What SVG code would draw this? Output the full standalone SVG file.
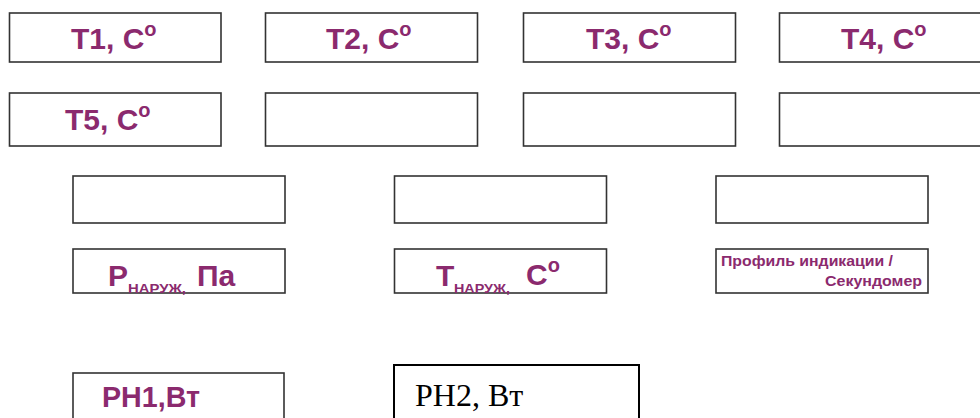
<svg xmlns="http://www.w3.org/2000/svg" width="980" height="418" viewBox="0 0 980 418">
<style>
.box{fill:#fff;stroke:#333;stroke-width:1.6}
.box2{fill:#fff;stroke:#000;stroke-width:2}
.lbl{font-family:"Liberation Sans",Arial,sans-serif;fill:#8B2A6E;font-size:30px;font-weight:bold}
.sub{font-family:"Liberation Sans",Arial,sans-serif;fill:#8B2A6E;font-size:12px;font-weight:bold}
.small{font-family:"Liberation Sans",Arial,sans-serif;fill:#8B2A6E;font-size:14px;font-weight:bold}
.serif{font-family:"Liberation Serif","Times New Roman",serif;fill:#000;font-size:32px}
</style>
<rect width="980" height="418" fill="#fff"/>
<g id="t1"><rect class="box" x="9.5" y="13" width="211.5" height="49"/><text class="lbl" x="71" y="48.5">T1, C<tspan font-size="20" dy="-13">o</tspan></text></g>
<g id="t2"><rect class="box" x="265.5" y="13" width="212" height="49"/><text class="lbl" x="326" y="48.5">T2, C<tspan font-size="20" dy="-13">o</tspan></text></g>
<g id="t3"><rect class="box" x="523.5" y="13" width="212" height="49"/><text class="lbl" x="586" y="48.5">T3, C<tspan font-size="20" dy="-13">o</tspan></text></g>
<g id="t4"><rect class="box" x="779.5" y="13" width="212" height="49"/><text class="lbl" x="841" y="48.5">T4, C<tspan font-size="20" dy="-13">o</tspan></text></g>
<g id="t5"><rect class="box" x="9.5" y="93" width="211.5" height="53"/><text class="lbl" x="65" y="130">T5, C<tspan font-size="20" dy="-13">o</tspan></text></g>
<g id="r2c2"><rect class="box" x="265.5" y="93" width="212" height="53"/></g>
<g id="r2c3"><rect class="box" x="523.5" y="93" width="212" height="53"/></g>
<g id="r2c4"><rect class="box" x="779.5" y="93" width="212" height="53"/></g>
<g id="r3c1"><rect class="box" x="73" y="176" width="212" height="47"/></g>
<g id="r3c2"><rect class="box" x="394.5" y="176" width="212" height="47"/></g>
<g id="r3c3"><rect class="box" x="716" y="176" width="212" height="47"/></g>
<g id="pnar"><rect class="box" x="73" y="249" width="212" height="44"/>
<text class="lbl" x="108" y="286" font-size="29">P</text>
<text class="sub" x="128" y="293" textLength="58" lengthAdjust="spacingAndGlyphs">НАРУЖ,</text>
<text class="lbl" x="197" y="286" font-size="29">Па</text></g>
<g id="tnar"><rect class="box" x="394.5" y="249" width="212" height="44"/>
<text class="lbl" x="436" y="286" font-size="29">T</text>
<text class="sub" x="454" y="293" textLength="56" lengthAdjust="spacingAndGlyphs">НАРУЖ,</text>
<text class="lbl" x="526" y="285">C<tspan font-size="20" dy="-13">o</tspan></text></g>
<g id="prof"><rect class="box" x="716" y="249" width="212" height="44"/>
<text class="small" x="721" y="266" textLength="172" lengthAdjust="spacingAndGlyphs">Профиль индикации /</text>
<text class="small" x="825" y="286" textLength="97" lengthAdjust="spacingAndGlyphs">Секундомер</text></g>
<g id="ph1"><rect class="box" x="73" y="373" width="211" height="60"/><text class="lbl" x="102" y="406.5" font-size="27" textLength="98" lengthAdjust="spacingAndGlyphs">PH1,Вт</text></g>
<g id="ph2"><rect class="box2" x="394" y="365" width="245" height="70"/><text class="serif" x="415" y="406">PH2, Вт</text></g>
<g id="connectors"/>
</svg>
